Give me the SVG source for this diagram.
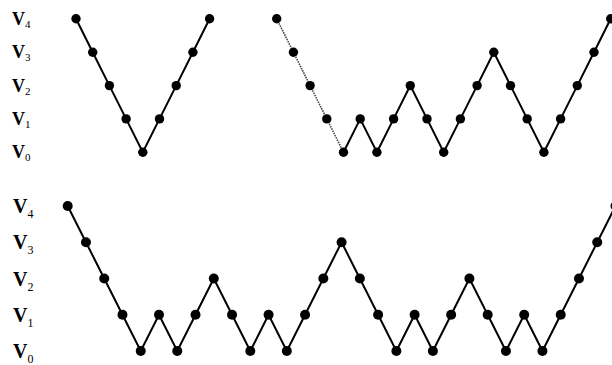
<svg xmlns="http://www.w3.org/2000/svg" xmlns:xlink="http://www.w3.org/1999/xlink" width="612" height="365" viewBox="0 0 612 365">
<style>
.lbl{font-family:"Liberation Serif","Times New Roman",serif;fill:#000;font-weight:bold}
.t{font-size:18px}
.b{font-size:20px}
.st{font-size:11px;font-weight:normal}
.sb{font-size:12px;font-weight:normal}
.edge{fill:none;stroke:#000;stroke-width:2;stroke-linejoin:miter}
.dot{fill:none;stroke:#444;stroke-width:1.6;stroke-dasharray:1.5 1}
.n{fill:#000}
</style>
<defs>
<circle id="d" r="4.7" class="n"/>
<circle id="db" r="5" class="n"/>
</defs>
<rect width="612" height="365" fill="#fff"/>
<g id="labels-top">
<text class="lbl t" x="12" y="25">V<tspan class="st" dy="3">4</tspan></text>
<text class="lbl t" x="12" y="58">V<tspan class="st" dy="3">3</tspan></text>
<text class="lbl t" x="12" y="92">V<tspan class="st" dy="3">2</tspan></text>
<text class="lbl t" x="12" y="125">V<tspan class="st" dy="3">1</tspan></text>
<text class="lbl t" x="12" y="158">V<tspan class="st" dy="3">0</tspan></text>
</g>
<g id="labels-bottom">
<text class="lbl b" x="13" y="213">V<tspan class="sb" dy="5">4</tspan></text>
<text class="lbl b" x="13" y="249">V<tspan class="sb" dy="5">3</tspan></text>
<text class="lbl b" x="13" y="285.5">V<tspan class="sb" dy="5">2</tspan></text>
<text class="lbl b" x="13" y="322">V<tspan class="sb" dy="5">1</tspan></text>
<text class="lbl b" x="13" y="358">V<tspan class="sb" dy="5">0</tspan></text>
</g>
<g id="connectors">
<polyline class="edge" points="76,18.8 92.7,52.2 109.4,85.6 126.1,118.9 142.8,152.3 159.5,118.9 176.2,85.6 192.9,52.2 209.6,18.8"/>
<polyline class="dot" points="276.7,18.8 293.4,52.2 310.1,85.6 326.8,118.9 343.5,152.3"/>
<polyline class="edge" points="343.5,152.3 360.2,118.9 376.9,152.3 393.6,118.9 410.3,85.6 427,118.9 443.7,152.3 460.4,118.9 477.1,85.6 493.8,52.2 510.5,85.6 527.2,118.9 543.9,152.3 560.6,118.9 577.3,85.6 594,52.2 610.7,18.8"/>
<polyline class="edge" points="67.7,206 85.96,242.25 104.22,278.5 122.48,314.75 140.74,351 159,314.75 177.26,351 195.52,314.75 213.78,278.5 232.04,314.75 250.3,351 268.56,314.75 286.82,351 305.08,314.75 323.34,278.5 341.6,242.25 359.86,278.5 378.12,314.75 396.38,351 414.64,314.75 432.9,351 451.16,314.75 469.42,278.5 487.68,314.75 505.94,351 524.2,314.75 542.46,351 560.72,314.75 578.98,278.5 597.24,242.25 615.5,206"/>
</g>
<g id="nodes-top-left">
<g id="a0"><use xlink:href="#d" x="76" y="18.8"/></g>
<g id="a1"><use xlink:href="#d" x="92.7" y="52.2"/></g>
<g id="a2"><use xlink:href="#d" x="109.4" y="85.6"/></g>
<g id="a3"><use xlink:href="#d" x="126.1" y="118.9"/></g>
<g id="a4"><use xlink:href="#d" x="142.8" y="152.3"/></g>
<g id="a5"><use xlink:href="#d" x="159.5" y="118.9"/></g>
<g id="a6"><use xlink:href="#d" x="176.2" y="85.6"/></g>
<g id="a7"><use xlink:href="#d" x="192.9" y="52.2"/></g>
<g id="a8"><use xlink:href="#d" x="209.6" y="18.8"/></g>
</g>
<g id="nodes-top-right">
<g id="b0"><use xlink:href="#d" x="276.7" y="18.8"/></g>
<g id="b1"><use xlink:href="#d" x="293.4" y="52.2"/></g>
<g id="b2"><use xlink:href="#d" x="310.1" y="85.6"/></g>
<g id="b3"><use xlink:href="#d" x="326.8" y="118.9"/></g>
<g id="b4"><use xlink:href="#d" x="343.5" y="152.3"/></g>
<g id="b5"><use xlink:href="#d" x="360.2" y="118.9"/></g>
<g id="b6"><use xlink:href="#d" x="376.9" y="152.3"/></g>
<g id="b7"><use xlink:href="#d" x="393.6" y="118.9"/></g>
<g id="b8"><use xlink:href="#d" x="410.3" y="85.6"/></g>
<g id="b9"><use xlink:href="#d" x="427" y="118.9"/></g>
<g id="b10"><use xlink:href="#d" x="443.7" y="152.3"/></g>
<g id="b11"><use xlink:href="#d" x="460.4" y="118.9"/></g>
<g id="b12"><use xlink:href="#d" x="477.1" y="85.6"/></g>
<g id="b13"><use xlink:href="#d" x="493.8" y="52.2"/></g>
<g id="b14"><use xlink:href="#d" x="510.5" y="85.6"/></g>
<g id="b15"><use xlink:href="#d" x="527.2" y="118.9"/></g>
<g id="b16"><use xlink:href="#d" x="543.9" y="152.3"/></g>
<g id="b17"><use xlink:href="#d" x="560.6" y="118.9"/></g>
<g id="b18"><use xlink:href="#d" x="577.3" y="85.6"/></g>
<g id="b19"><use xlink:href="#d" x="594" y="52.2"/></g>
<g id="b20"><use xlink:href="#d" x="610.7" y="18.8"/></g>
</g>
<g id="nodes-bottom">
<g id="c0"><use xlink:href="#db" x="67.7" y="206"/></g>
<g id="c1"><use xlink:href="#db" x="85.96" y="242.25"/></g>
<g id="c2"><use xlink:href="#db" x="104.22" y="278.5"/></g>
<g id="c3"><use xlink:href="#db" x="122.48" y="314.75"/></g>
<g id="c4"><use xlink:href="#db" x="140.74" y="351"/></g>
<g id="c5"><use xlink:href="#db" x="159" y="314.75"/></g>
<g id="c6"><use xlink:href="#db" x="177.26" y="351"/></g>
<g id="c7"><use xlink:href="#db" x="195.52" y="314.75"/></g>
<g id="c8"><use xlink:href="#db" x="213.78" y="278.5"/></g>
<g id="c9"><use xlink:href="#db" x="232.04" y="314.75"/></g>
<g id="c10"><use xlink:href="#db" x="250.3" y="351"/></g>
<g id="c11"><use xlink:href="#db" x="268.56" y="314.75"/></g>
<g id="c12"><use xlink:href="#db" x="286.82" y="351"/></g>
<g id="c13"><use xlink:href="#db" x="305.08" y="314.75"/></g>
<g id="c14"><use xlink:href="#db" x="323.34" y="278.5"/></g>
<g id="c15"><use xlink:href="#db" x="341.6" y="242.25"/></g>
<g id="c16"><use xlink:href="#db" x="359.86" y="278.5"/></g>
<g id="c17"><use xlink:href="#db" x="378.12" y="314.75"/></g>
<g id="c18"><use xlink:href="#db" x="396.38" y="351"/></g>
<g id="c19"><use xlink:href="#db" x="414.64" y="314.75"/></g>
<g id="c20"><use xlink:href="#db" x="432.9" y="351"/></g>
<g id="c21"><use xlink:href="#db" x="451.16" y="314.75"/></g>
<g id="c22"><use xlink:href="#db" x="469.42" y="278.5"/></g>
<g id="c23"><use xlink:href="#db" x="487.68" y="314.75"/></g>
<g id="c24"><use xlink:href="#db" x="505.94" y="351"/></g>
<g id="c25"><use xlink:href="#db" x="524.2" y="314.75"/></g>
<g id="c26"><use xlink:href="#db" x="542.46" y="351"/></g>
<g id="c27"><use xlink:href="#db" x="560.72" y="314.75"/></g>
<g id="c28"><use xlink:href="#db" x="578.98" y="278.5"/></g>
<g id="c29"><use xlink:href="#db" x="597.24" y="242.25"/></g>
<g id="c30"><use xlink:href="#db" x="615.5" y="206"/></g>
</g>
</svg>
